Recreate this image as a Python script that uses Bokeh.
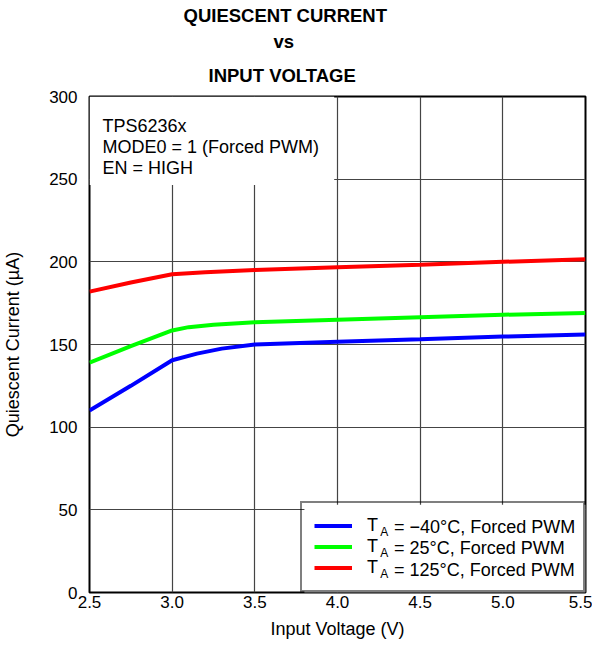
from bokeh.plotting import figure
from bokeh.models import (Label, BoxAnnotation, Legend, LegendItem, FixedTicker,
                          PrintfTickFormatter, Title)
from bokeh.embed import file_html
from bokeh.resources import INLINE

# ---- data ----
vin_m40 = [2.5, 2.75, 3.0, 3.15, 3.3, 3.5, 4.0, 4.5, 5.0, 5.5]
iq_m40 = [110, 125, 140.5, 144.5, 147.5, 150, 151.7, 153.2, 154.8, 156]

vin_25 = [2.5, 2.75, 3.0, 3.1, 3.25, 3.5, 4.0, 4.5, 5.0, 5.5]
iq_25 = [139, 149, 158.5, 160.5, 162, 163.5, 165, 166.5, 168, 169]

vin_125 = [2.5, 2.75, 3.0, 3.2, 3.5, 4.0, 4.5, 5.0, 5.5]
iq_125 = [182, 187.5, 192.5, 193.7, 195, 196.7, 198.3, 200, 201.5]

x_ticks = [2.5, 3.0, 3.5, 4.0, 4.5, 5.0, 5.5]
y_ticks = [0, 50, 100, 150, 200, 250, 300]
x_grid = [3.0, 3.5, 4.0, 4.5, 5.0]
y_grid = [50, 100, 150, 200, 250]

series_temps = ["\u221240\u00b0C", "25\u00b0C", "125\u00b0C"]
series_colors = ["#0000ff", "#00ff00", "#ff0000"]

title_lines = ["QUIESCENT CURRENT", "vs", "INPUT VOLTAGE"]
note_lines = ["TPS6236x", "MODE0 = 1 (Forced PWM)", "EN = HIGH"]

FONT = "Liberation Sans"

p = figure(width=592, height=641,
           min_border_left=81, min_border_right=7,
           min_border_top=89, min_border_bottom=46,
           x_range=(2.5, 5.5), y_range=(0, 300),
           output_backend="svg", toolbar_location=None)

p.outline_line_color = "black"
p.outline_line_width = 2
p.background_fill_color = "white"

# title (innermost line first)
title_offsets = [94, 184, 119]
title_standoffs = [5, 0, 22]
for t, off, so in reversed(list(zip(title_lines, title_offsets, title_standoffs))):
    p.add_layout(Title(text=t, align="left", offset=off, standoff=so,
                       text_font=FONT, text_font_size="18.5px",
                       text_font_style="bold", text_color="black"), "above")

# axes
p.xaxis.ticker = FixedTicker(ticks=x_ticks)
p.yaxis.ticker = FixedTicker(ticks=y_ticks)
p.xaxis.formatter = PrintfTickFormatter(format="%.1f")
for ax in (p.xaxis, p.yaxis):
    ax.major_tick_line_color = None
    ax.minor_tick_line_color = None
    ax.major_tick_out = 0
    ax.major_tick_in = 0
    ax.minor_tick_out = 0
    ax.minor_tick_in = 0
    ax.axis_line_color = None
    ax.major_label_text_font = FONT
    ax.major_label_text_font_size = "17px"
    ax.major_label_text_color = "black"
    ax.axis_label_text_font = FONT
    ax.axis_label_text_font_size = "18px"
    ax.axis_label_text_font_style = "normal"
    ax.axis_label_text_color = "black"
p.xaxis.axis_label = "Input Voltage (V)"
p.yaxis.axis_label = "Quiescent Current (\u00b5A)"
p.xaxis.major_label_standoff = 3
p.xaxis.axis_label_standoff = 8
p.yaxis.major_label_standoff = 12
p.yaxis.axis_label_standoff = 23

# grid
p.xgrid.ticker = FixedTicker(ticks=x_grid)
p.ygrid.ticker = FixedTicker(ticks=y_grid)
for g in (p.xgrid, p.ygrid):
    g.grid_line_color = "#444444"
    g.grid_line_width = 1.2

# white box behind the note
p.add_layout(BoxAnnotation(left=2.5, right=3.98, bottom=246.5, top=300,
                           fill_color="white", fill_alpha=1.0,
                           line_color=None, level="underlay"))
# white box behind the legend
p.add_layout(BoxAnnotation(left=3.80, right=5.5, bottom=0, top=53.0,
                           fill_color="white", fill_alpha=1.0,
                           line_color=None, level="underlay"))

# curves
r1 = p.line(vin_m40, iq_m40, line_width=4, line_color=series_colors[0])
r2 = p.line(vin_25, iq_25, line_width=4, line_color=series_colors[1])
r3 = p.line(vin_125, iq_125, line_width=4, line_color=series_colors[2])

legend = Legend(items=[LegendItem(label="T", renderers=[r]) for r in (r1, r2, r3)],
                location="bottom_right", margin=0, padding=12, spacing=0,
                glyph_width=38, glyph_height=21, label_height=21,
                label_standoff=15, label_width=204,
                label_text_font=FONT, label_text_font_size="18px",
                label_text_color="black",
                border_line_color="black", border_line_width=2,
                background_fill_alpha=0.0)
p.add_layout(legend)

# legend subscripts and rest of text
row_y = [39.6, 26.7, 13.9]
for i, t in enumerate(series_temps):
    p.add_layout(Label(x=4.258, y=row_y[i] - 2.8, text="A", text_font=FONT,
                       text_font_size="12px", text_baseline="middle",
                       text_color="black"))
    p.add_layout(Label(x=4.342, y=row_y[i], text="= " + t + ", Forced PWM",
                       text_font=FONT, text_font_size="18px",
                       text_baseline="middle", text_color="black"))

# note text
note_y = [281.9, 269.2, 256.5]
for t, y in zip(note_lines, note_y):
    p.add_layout(Label(x=2.579, y=y, text=t, text_font=FONT,
                       text_font_size="18px", text_baseline="alphabetic",
                       text_color="black"))

open("out.html", "w").write(file_html(p, INLINE))
